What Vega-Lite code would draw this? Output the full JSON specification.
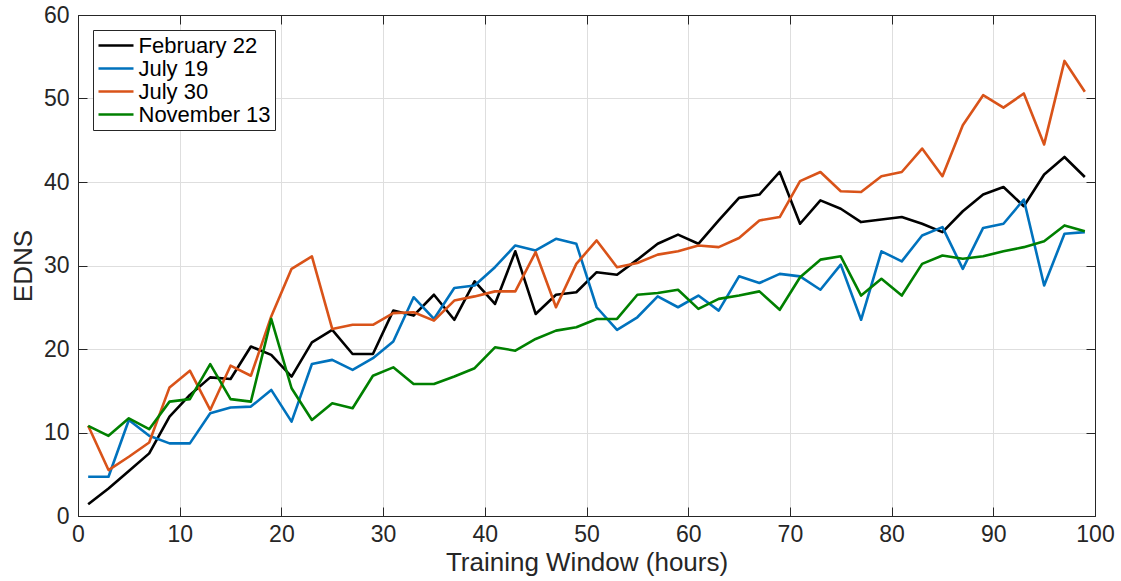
{
  "$schema": "https://vega.github.io/schema/vega-lite/v6.json",
  "width": 1017,
  "height": 501,
  "autosize": "none",
  "padding": {"left": 78, "top": 15, "right": 26, "bottom": 65},
  "background": "white",
  "config": {
    "font": "Liberation Sans",
    "view": {"stroke": "#262626", "strokeWidth": 1},
    "axis": {
      "domainColor": "#262626",
      "tickColor": "#262626",
      "labelColor": "#262626",
      "titleColor": "#262626",
      "labelFont": "Liberation Sans",
      "titleFont": "Liberation Sans",
      "labelFontSize": 23,
      "titleFontSize": 26,
      "titleFontWeight": "normal",
      "gridColor": "#dedede",
      "gridOpacity": 1,
      "tickSize": -9
    }
  },
  "data": {
    "values": [
      {"h": 1, "February 22": 1.4, "July 19": 4.7, "July 30": 10.8, "November 13": 10.8},
      {"h": 3, "February 22": 3.3, "July 19": 4.7, "July 30": 5.5, "November 13": 9.6},
      {"h": 5, "February 22": 5.4, "July 19": 11.5, "July 30": 7.1, "November 13": 11.7},
      {"h": 7, "February 22": 7.5, "July 19": 9.6, "July 30": 8.8, "November 13": 10.4},
      {"h": 9, "February 22": 11.9, "July 19": 8.7, "July 30": 15.4, "November 13": 13.7},
      {"h": 11, "February 22": 14.5, "July 19": 8.7, "July 30": 17.4, "November 13": 14.0},
      {"h": 13, "February 22": 16.6, "July 19": 12.3, "July 30": 12.7, "November 13": 18.2},
      {"h": 15, "February 22": 16.4, "July 19": 13.0, "July 30": 18.0, "November 13": 14.0},
      {"h": 17, "February 22": 20.3, "July 19": 13.1, "July 30": 16.8, "November 13": 13.7},
      {"h": 19, "February 22": 19.3, "July 19": 15.1, "July 30": 23.9, "November 13": 23.6},
      {"h": 21, "February 22": 16.7, "July 19": 11.3, "July 30": 29.6, "November 13": 15.3},
      {"h": 23, "February 22": 20.8, "July 19": 18.2, "July 30": 31.1, "November 13": 11.5},
      {"h": 25, "February 22": 22.3, "July 19": 18.7, "July 30": 22.4, "November 13": 13.5},
      {"h": 27, "February 22": 19.4, "July 19": 17.5, "July 30": 22.9, "November 13": 12.9},
      {"h": 29, "February 22": 19.4, "July 19": 18.9, "July 30": 22.9, "November 13": 16.8},
      {"h": 31, "February 22": 24.6, "July 19": 20.9, "July 30": 24.3, "November 13": 17.8},
      {"h": 33, "February 22": 24.0, "July 19": 26.2, "July 30": 24.4, "November 13": 15.8},
      {"h": 35, "February 22": 26.5, "July 19": 23.6, "July 30": 23.4, "November 13": 15.8},
      {"h": 37, "February 22": 23.5, "July 19": 27.3, "July 30": 25.8, "November 13": 16.7},
      {"h": 39, "February 22": 28.1, "July 19": 27.6, "July 30": 26.3, "November 13": 17.7},
      {"h": 41, "February 22": 25.4, "July 19": 29.8, "July 30": 26.9, "November 13": 20.2},
      {"h": 43, "February 22": 31.7, "July 19": 32.4, "July 30": 26.9, "November 13": 19.8},
      {"h": 45, "February 22": 24.2, "July 19": 31.8, "July 30": 31.6, "November 13": 21.2},
      {"h": 47, "February 22": 26.5, "July 19": 33.2, "July 30": 25.0, "November 13": 22.2},
      {"h": 49, "February 22": 26.8, "July 19": 32.6, "July 30": 30.2, "November 13": 22.6},
      {"h": 51, "February 22": 29.2, "July 19": 25.0, "July 30": 33.0, "November 13": 23.6},
      {"h": 53, "February 22": 28.9, "July 19": 22.3, "July 30": 29.8, "November 13": 23.6},
      {"h": 55, "February 22": 30.7, "July 19": 23.8, "July 30": 30.3, "November 13": 26.5},
      {"h": 57, "February 22": 32.6, "July 19": 26.3, "July 30": 31.3, "November 13": 26.7},
      {"h": 59, "February 22": 33.7, "July 19": 25.0, "July 30": 31.7, "November 13": 27.1},
      {"h": 61, "February 22": 32.6, "July 19": 26.4, "July 30": 32.4, "November 13": 24.8},
      {"h": 63, "February 22": 35.4, "July 19": 24.6, "July 30": 32.2, "November 13": 26.0},
      {"h": 65, "February 22": 38.1, "July 19": 28.7, "July 30": 33.3, "November 13": 26.4},
      {"h": 67, "February 22": 38.5, "July 19": 27.9, "July 30": 35.4, "November 13": 26.9},
      {"h": 69, "February 22": 41.2, "July 19": 29.0, "July 30": 35.8, "November 13": 24.7},
      {"h": 71, "February 22": 35.0, "July 19": 28.7, "July 30": 40.1, "November 13": 28.6},
      {"h": 73, "February 22": 37.8, "July 19": 27.1, "July 30": 41.2, "November 13": 30.7},
      {"h": 75, "February 22": 36.8, "July 19": 30.1, "July 30": 38.9, "November 13": 31.1},
      {"h": 77, "February 22": 35.2, "July 19": 23.5, "July 30": 38.8, "November 13": 26.4},
      {"h": 79, "February 22": 35.5, "July 19": 31.7, "July 30": 40.7, "November 13": 28.4},
      {"h": 81, "February 22": 35.8, "July 19": 30.5, "July 30": 41.2, "November 13": 26.4},
      {"h": 83, "February 22": 35.0, "July 19": 33.6, "July 30": 44.0, "November 13": 30.2},
      {"h": 85, "February 22": 34.0, "July 19": 34.6, "July 30": 40.7, "November 13": 31.2},
      {"h": 87, "February 22": 36.5, "July 19": 29.6, "July 30": 46.8, "November 13": 30.8},
      {"h": 89, "February 22": 38.5, "July 19": 34.5, "July 30": 50.4, "November 13": 31.1},
      {"h": 91, "February 22": 39.4, "July 19": 35.0, "July 30": 48.9, "November 13": 31.7},
      {"h": 93, "February 22": 37.1, "July 19": 37.9, "July 30": 50.6, "November 13": 32.2},
      {"h": 95, "February 22": 40.9, "July 19": 27.6, "July 30": 44.5, "November 13": 32.9},
      {"h": 97, "February 22": 43.0, "July 19": 33.8, "July 30": 54.5, "November 13": 34.8},
      {"h": 99, "February 22": 40.6, "July 19": 34.0, "July 30": 50.8, "November 13": 34.1}
    ]
  },
  "transform": [
    {"fold": ["February 22", "July 19", "July 30", "November 13"], "as": ["series", "edns"]}
  ],
  "layer": [
    {
      "mark": {"type": "line", "strokeWidth": 2.6, "strokeJoin": "round", "clip": true},
      "encoding": {
        "x": {
          "field": "h", "type": "quantitative",
          "scale": {"domain": [0, 100], "nice": false, "zero": false},
          "axis": {"title": "Training Window (hours)", "values": [0, 10, 20, 30, 40, 50, 60, 70, 80, 90, 100], "labelPadding": 16, "titlePadding": 3, "labelFlush": false}
        },
        "y": {
          "field": "edns", "type": "quantitative",
          "scale": {"domain": [0, 60], "nice": false},
          "axis": {"title": "EDNS", "values": [0, 10, 20, 30, 40, 50, 60], "labelPadding": 18, "titlePadding": 7}
        },
        "color": {
          "field": "series", "type": "nominal",
          "scale": {
            "domain": ["February 22", "July 19", "July 30", "November 13"],
            "range": ["#000000", "#0072BD", "#D95319", "#008000"]
          },
          "legend": {
            "title": null,
            "orient": "none",
            "legendX": 15,
            "legendY": 15,
            "symbolType": "M-1.75,0H1.75",
            "symbolSize": 400,
            "symbolOffset": 7.5,
            "symbolStrokeWidth": 2.6,
            "labelFontSize": 22,
            "labelColor": "#000000",
            "labelFont": "Liberation Sans",
            "labelOffset": 11,
            "rowPadding": 0,
            "padding": 4,
            "strokeColor": "#262626",
            "fillColor": "white"
          }
        }
      }
    },
    {
      "mark": {"type": "point", "opacity": 0},
      "encoding": {
        "x": {
          "field": "h", "type": "quantitative",
          "axis": {"orient": "top", "title": null, "labels": false, "grid": false, "values": [0, 10, 20, 30, 40, 50, 60, 70, 80, 90, 100]}
        },
        "y": {
          "field": "edns", "type": "quantitative",
          "axis": {"orient": "right", "title": null, "labels": false, "grid": false, "values": [0, 10, 20, 30, 40, 50, 60]}
        }
      }
    }
  ],
  "resolve": {"axis": {"x": "independent", "y": "independent"}}
}
